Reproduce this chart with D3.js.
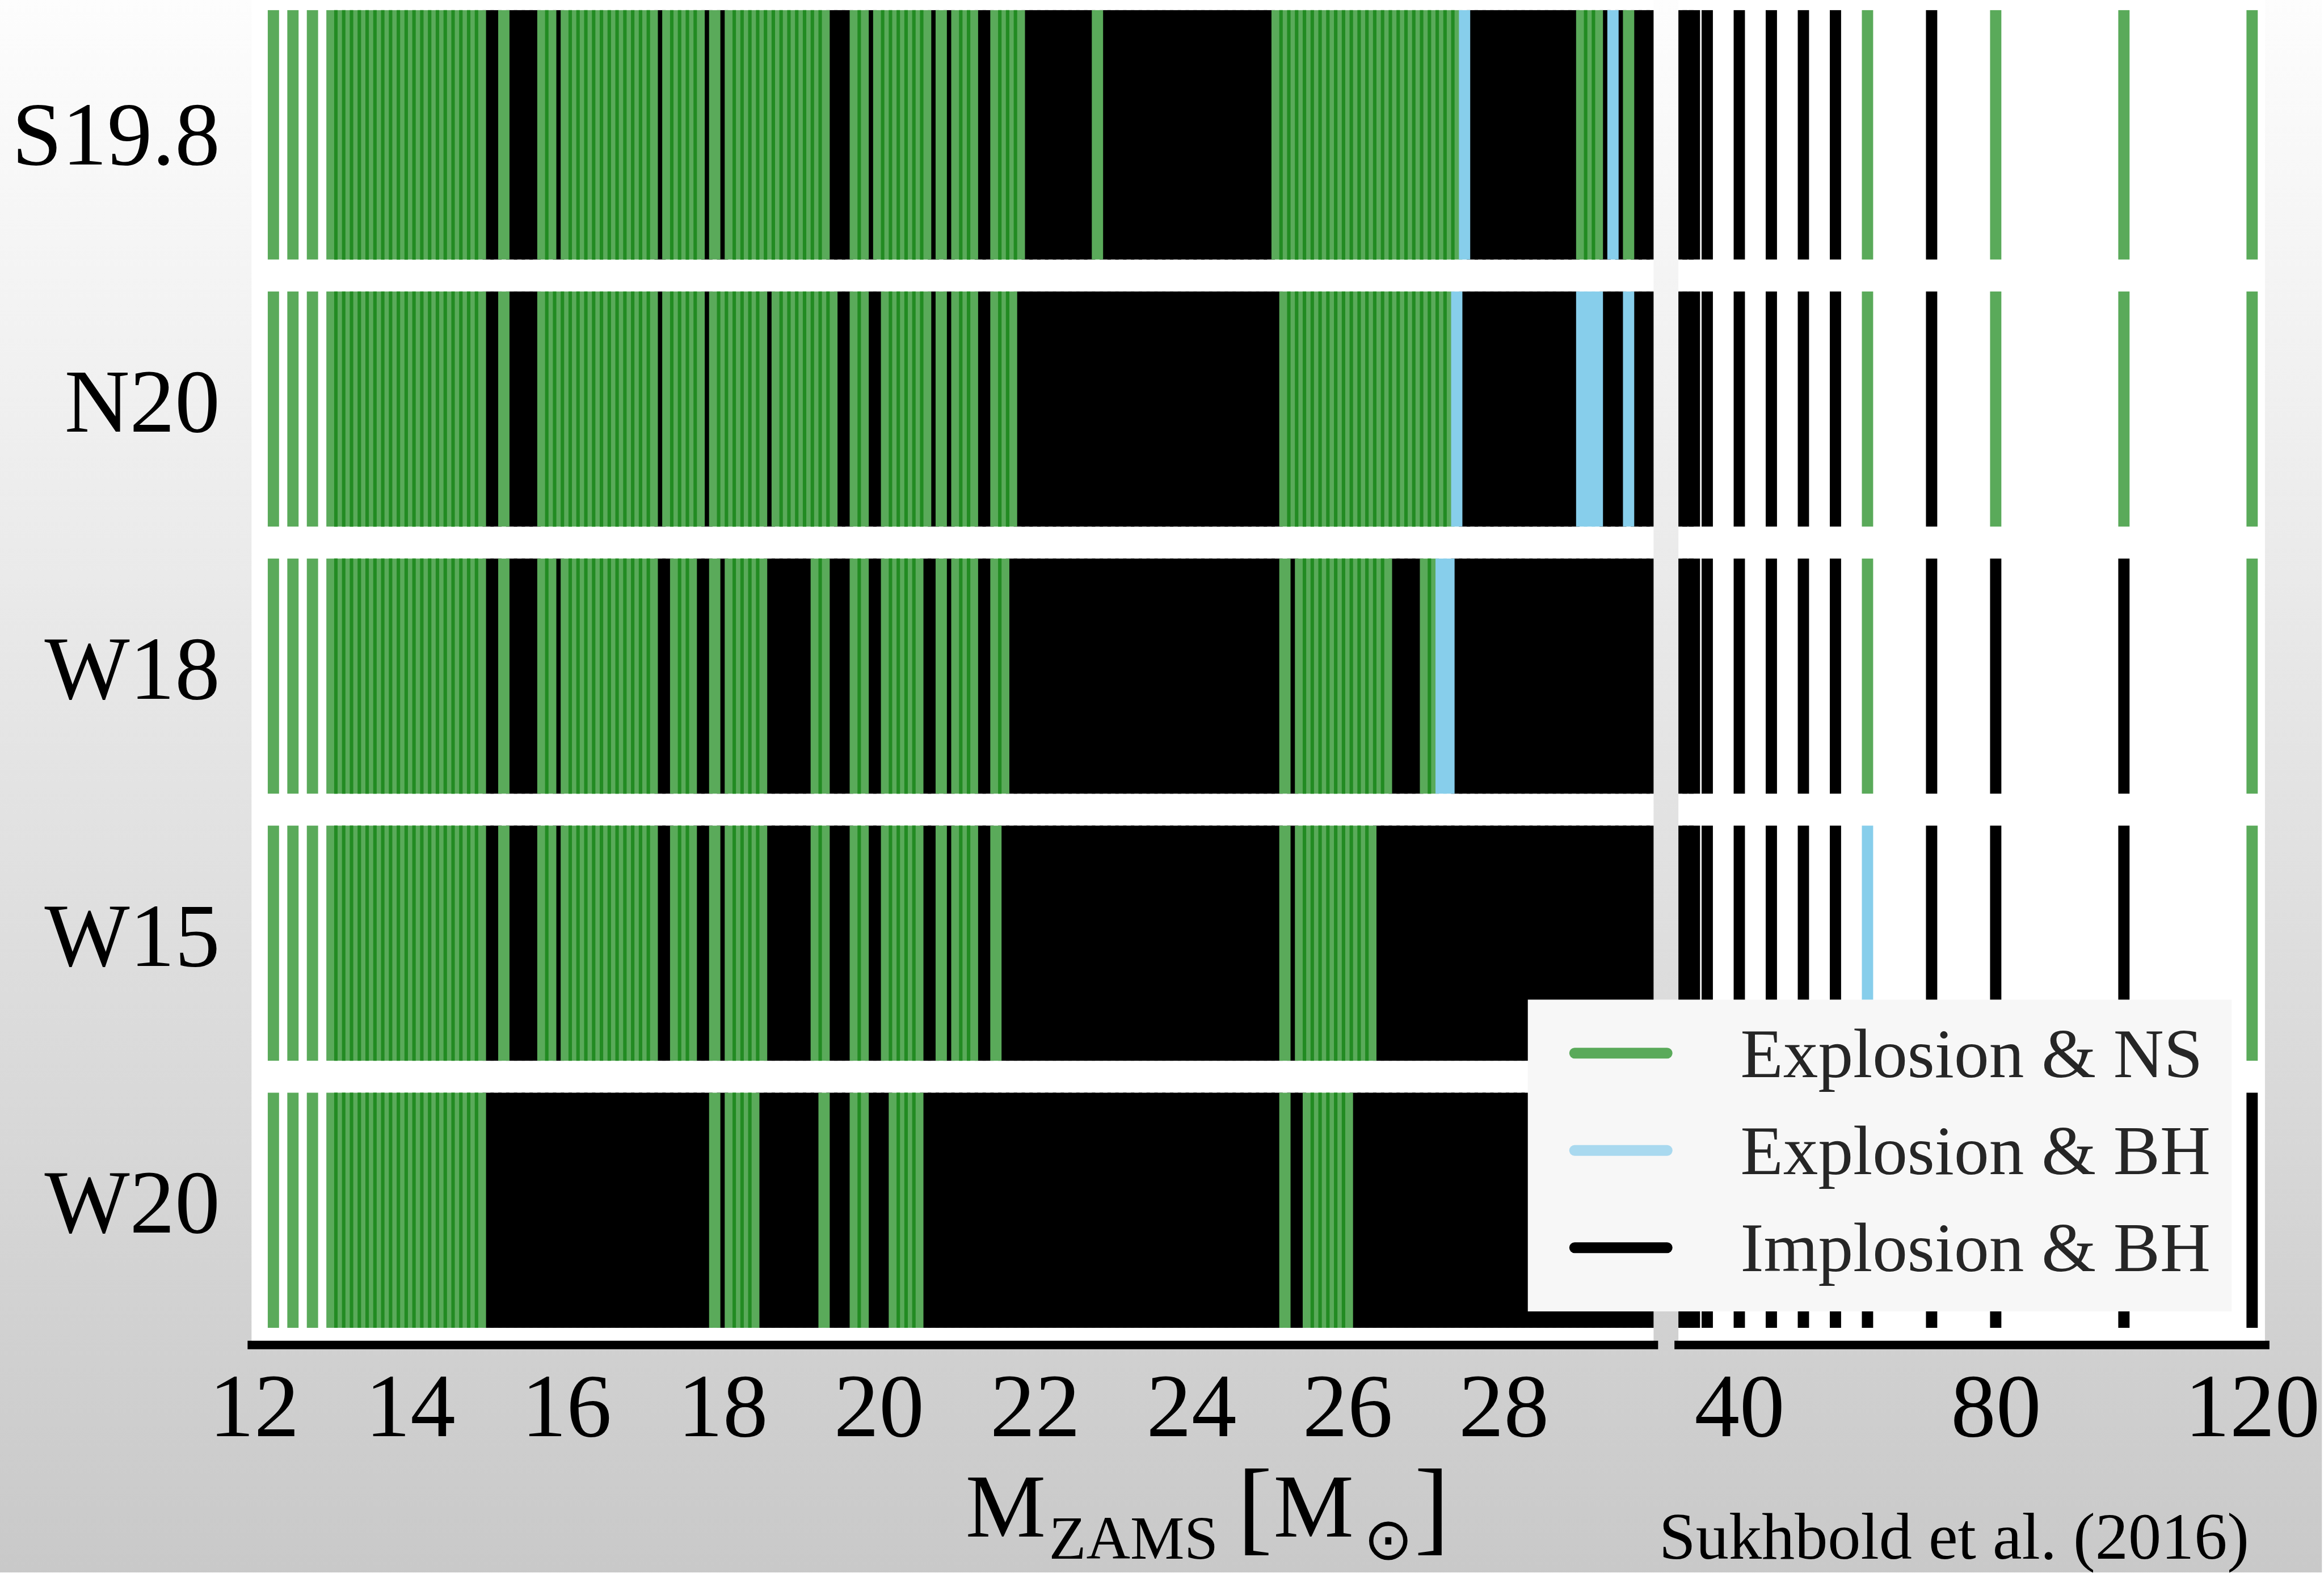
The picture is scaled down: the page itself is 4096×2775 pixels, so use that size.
<!DOCTYPE html>
<html>
<head>
<meta charset="utf-8">
<script src="https://cdn.jsdelivr.net/npm/d3@7"></script>
<style>
  body { margin: 0; background: #fff; }
  svg { display: block; }
</style>
</head>
<body>
<div id="chart"></div>
<script>
// engines (one row each), top to bottom
var engines = ["S19.8", "N20", "W18", "W15", "W20"];

// ZAMS masses of the progenitor grid [Msun]
var masses = [
    12.25, 12.5, 12.75,
    13.0, 13.1, 13.2, 13.3, 13.4, 13.5, 13.6, 13.7, 13.8, 13.9,
    14.0, 14.1, 14.2, 14.3, 14.4, 14.5, 14.6, 14.7, 14.8, 14.9,
    15.0, 15.1, 15.2, 15.3, 15.4, 15.5, 15.6, 15.7, 15.8, 15.9,
    16.0, 16.1, 16.2, 16.3, 16.4, 16.5, 16.6, 16.7, 16.8, 16.9,
    17.0, 17.1, 17.2, 17.3, 17.4, 17.5, 17.6, 17.7, 17.8, 17.9,
    18.0, 18.1, 18.2, 18.3, 18.4, 18.5, 18.6, 18.7, 18.8, 18.9,
    19.0, 19.1, 19.2, 19.3, 19.4, 19.5, 19.6, 19.7, 19.8, 19.9,
    20.0, 20.1, 20.2, 20.3, 20.4, 20.5, 20.6, 20.7, 20.8, 20.9,
    21.0, 21.1, 21.2, 21.3, 21.4, 21.5, 21.6, 21.7, 21.8, 21.9,
    22.0, 22.1, 22.2, 22.3, 22.4, 22.5, 22.6, 22.7, 22.8, 22.9,
    23.0, 23.1, 23.2, 23.3, 23.4, 23.5, 23.6, 23.7, 23.8, 23.9,
    24.0, 24.1, 24.2, 24.3, 24.4, 24.5, 24.6, 24.7, 24.8, 24.9,
    25.0, 25.1, 25.2, 25.3, 25.4, 25.5, 25.6, 25.7, 25.8, 25.9,
    26.0, 26.1, 26.2, 26.3, 26.4, 26.5, 26.6, 26.7, 26.8, 26.9,
    27.0, 27.1, 27.2, 27.3, 27.4, 27.5, 27.6, 27.7, 27.8, 27.9,
    28.0, 28.1, 28.2, 28.3, 28.4, 28.5, 28.6, 28.7, 28.8, 28.9,
    29.0, 29.1, 29.2, 29.3, 29.4, 29.5, 29.6, 29.7, 29.8, 29.9,
    30.0,
    31, 32, 33, 35, 40, 45, 50, 55, 60, 70, 80, 100, 120
];

// outcome runs per engine: [first mass, last mass, outcome]
// ns = explosion & NS, bhx = explosion & BH, bh = implosion & BH
var runsS198 = [
    [12.25, 14.9, "ns"], [15.0, 15.1, "bh"], [15.2, 15.2, "ns"], [15.3, 15.6, "bh"],
    [15.7, 15.8, "ns"], [15.9, 15.9, "bh"], [16.0, 17.1, "ns"], [17.2, 17.2, "bh"],
    [17.3, 17.7, "ns"], [17.8, 17.8, "bh"], [17.9, 17.9, "ns"], [18.0, 18.0, "bh"],
    [18.1, 19.3, "ns"], [19.4, 19.6, "bh"], [19.7, 19.8, "ns"], [19.9, 19.9, "bh"],
    [20.0, 20.6, "ns"], [20.7, 20.7, "bh"], [20.8, 20.8, "ns"], [20.9, 20.9, "bh"],
    [21.0, 21.2, "ns"], [21.3, 21.4, "bh"], [21.5, 21.8, "ns"], [21.9, 22.7, "bh"],
    [22.8, 22.8, "ns"], [22.9, 25.0, "bh"], [25.1, 27.4, "ns"], [27.5, 27.5, "bhx"],
    [27.6, 28.9, "bh"], [29.0, 29.2, "ns"], [29.3, 29.3, "bh"], [29.4, 29.4, "bhx"],
    [29.5, 29.5, "bh"], [29.6, 29.6, "ns"], [29.7, 55, "bh"], [60, 60, "ns"],
    [70, 70, "bh"], [80, 120, "ns"]
];
var runsN20 = [
    [12.25, 14.9, "ns"], [15.0, 15.1, "bh"], [15.2, 15.2, "ns"], [15.3, 15.6, "bh"],
    [15.7, 17.1, "ns"], [17.2, 17.2, "bh"], [17.3, 17.7, "ns"], [17.8, 17.8, "bh"],
    [17.9, 18.5, "ns"], [18.6, 18.6, "bh"], [18.7, 19.4, "ns"], [19.5, 19.6, "bh"],
    [19.7, 19.8, "ns"], [19.9, 20.0, "bh"], [20.1, 20.6, "ns"], [20.7, 20.7, "bh"],
    [20.8, 20.8, "ns"], [20.9, 20.9, "bh"], [21.0, 21.2, "ns"], [21.3, 21.4, "bh"],
    [21.5, 21.7, "ns"], [21.8, 25.1, "bh"], [25.2, 27.3, "ns"], [27.4, 27.4, "bhx"],
    [27.5, 28.9, "bh"], [29.0, 29.2, "bhx"], [29.3, 29.5, "bh"], [29.6, 29.6, "bhx"],
    [29.7, 55, "bh"], [60, 60, "ns"], [70, 70, "bh"], [80, 120, "ns"]
];
var runsW18 = [
    [12.25, 14.9, "ns"], [15.0, 15.1, "bh"], [15.2, 15.2, "ns"], [15.3, 15.6, "bh"],
    [15.7, 15.8, "ns"], [15.9, 15.9, "bh"], [16.0, 17.1, "ns"], [17.2, 17.3, "bh"],
    [17.4, 17.6, "ns"], [17.7, 17.8, "bh"], [17.9, 17.9, "ns"], [18.0, 18.0, "bh"],
    [18.1, 18.5, "ns"], [18.6, 19.1, "bh"], [19.2, 19.3, "ns"], [19.4, 19.6, "bh"],
    [19.7, 19.8, "ns"], [19.9, 20.0, "bh"], [20.1, 20.5, "ns"], [20.6, 20.7, "bh"],
    [20.8, 20.8, "ns"], [20.9, 20.9, "bh"], [21.0, 21.2, "ns"], [21.3, 21.4, "bh"],
    [21.5, 21.6, "ns"], [21.7, 25.1, "bh"], [25.2, 25.2, "ns"], [25.3, 25.3, "bh"],
    [25.4, 26.5, "ns"], [26.6, 26.9, "bh"], [27.0, 27.1, "ns"], [27.2, 27.3, "bhx"],
    [27.4, 55, "bh"], [60, 60, "ns"], [70, 100, "bh"], [120, 120, "ns"]
];
var runsW15 = [
    [12.25, 14.9, "ns"], [15.0, 15.1, "bh"], [15.2, 15.2, "ns"], [15.3, 15.6, "bh"],
    [15.7, 15.8, "ns"], [15.9, 15.9, "bh"], [16.0, 17.1, "ns"], [17.2, 17.3, "bh"],
    [17.4, 17.6, "ns"], [17.7, 17.8, "bh"], [17.9, 17.9, "ns"], [18.0, 18.0, "bh"],
    [18.1, 18.5, "ns"], [18.6, 19.1, "bh"], [19.2, 19.3, "ns"], [19.4, 19.6, "bh"],
    [19.7, 19.8, "ns"], [19.9, 20.0, "bh"], [20.1, 20.5, "ns"], [20.6, 20.7, "bh"],
    [20.8, 20.8, "ns"], [20.9, 20.9, "bh"], [21.0, 21.2, "ns"], [21.3, 21.4, "bh"],
    [21.5, 21.5, "ns"], [21.6, 25.1, "bh"], [25.2, 25.2, "ns"], [25.3, 25.3, "bh"],
    [25.4, 26.3, "ns"], [26.4, 55, "bh"], [60, 60, "bhx"], [70, 100, "bh"],
    [120, 120, "ns"]
];
var runsW20 = [
    [12.25, 14.9, "ns"], [15.0, 17.8, "bh"], [17.9, 17.9, "ns"], [18.0, 18.0, "bh"],
    [18.1, 18.4, "ns"], [18.5, 19.2, "bh"], [19.3, 19.3, "ns"], [19.4, 19.6, "bh"],
    [19.7, 19.8, "ns"], [19.9, 20.1, "bh"], [20.2, 20.5, "ns"], [20.6, 25.1, "bh"],
    [25.2, 25.2, "ns"], [25.3, 25.4, "bh"], [25.5, 26.0, "ns"], [26.1, 120, "bh"]
];

var leftTicks = [12, 14, 16, 18, 20, 22, 24, 26, 28];
var rightTicks = [40, 80, 120];
var outcomeKeys = ["ns", "bhx", "bh"];
var outcomeLabels = ["Explosion & NS", "Explosion & BH", "Implosion & BH"];

var runsByEngine = {
    "S19.8": runsS198,
    "N20": runsN20,
    "W18": runsW18,
    "W15": runsW15,
    "W20": runsW20
};

// everything is laid out in the reference frame (4117 x 2789) and scaled down
var W = 4117, H = 2789, k = 0.994;
var serif = "'Liberation Serif', 'DejaVu Serif', serif";

var colors = { ns: "#5aaa5a", bhx: "#87ceeb", bh: "#000000" };
var overlapColor = "#228b22";     // where two neighbouring green bars overlap
var drawOrder = { bh: 0, ns: 1, bhx: 2 };   // black first, blue on top

var svg = d3.select("#chart")
    .append("svg")
    .attr("width", 4096)
    .attr("height", 2775);

var defs = svg.append("defs");
var grad = defs.append("linearGradient")
    .attr("id", "bg")
    .attr("x1", 0).attr("y1", 0)
    .attr("x2", 0).attr("y2", 1);
grad.append("stop").attr("offset", "0%").attr("stop-color", "#fdfdfd");
grad.append("stop").attr("offset", "100%").attr("stop-color", "#c9c9c9");

var root = svg.append("g").attr("transform", "scale(" + k + ")");

root.append("rect")
    .attr("width", W)
    .attr("height", H)
    .attr("fill", "url(#bg)");

var frameTop = 0,
    frameBottom = 2385,
    barTop = 18,       // top row runs up to here
    barWidth = 20;

var xLeft = d3.scaleLinear().domain([11.97, 29.92]).range([446, 2932]);
var xRight = d3.scaleLinear().domain([30.5, 122]).range([2976, 4016]);
var yRow = d3.scaleBand().domain(engines).range([43.3, 2355.1]).paddingInner(0.1197);

function outcomeOf(engine, m) {
    var runs = runsByEngine[engine];
    for (var i = 0; i < runs.length; i++) {
        if (m >= runs[i][0] - 1e-6 && m <= runs[i][1] + 1e-6) return runs[i][2];
    }
    return "bh";
}

function rowTop(engine) {
    return engine === engines[0] ? barTop : yRow(engine);
}
function rowHeight(engine) {
    return yRow(engine) + yRow.bandwidth() - rowTop(engine);
}

var panels = [
    { id: "left", x: xLeft, ticks: leftTicks, filter: function (m) { return m <= 30; } },
    { id: "right", x: xRight, ticks: rightTicks, filter: function (m) { return m > 30; } }
];

panels.forEach(function (p) {
    var r = p.x.range();
    var panelMasses = masses.filter(p.filter);

    // one record per engine and model, plus overlaps of neighbouring green bars
    var models = [], overlaps = [];
    engines.forEach(function (e) {
        panelMasses.forEach(function (m, i) {
            var out = outcomeOf(e, m);
            models.push({ engine: e, mass: m, outcome: out });
            if (i > 0 && out === "ns" && outcomeOf(e, panelMasses[i - 1]) === "ns") {
                var gap = p.x(m) - p.x(panelMasses[i - 1]);
                if (gap < barWidth) {
                    overlaps.push({ engine: e, mass: m, width: barWidth - gap });
                }
            }
        });
    });
    models.sort(function (a, b) {
        return drawOrder[a.outcome] - drawOrder[b.outcome];
    });

    defs.append("clipPath")
        .attr("id", "clip-" + p.id)
        .append("rect")
        .attr("x", r[0])
        .attr("y", frameTop)
        .attr("width", r[1] - r[0])
        .attr("height", frameBottom - frameTop);

    // white axes background
    root.append("rect")
        .attr("x", r[0])
        .attr("y", frameTop)
        .attr("width", r[1] - r[0])
        .attr("height", frameBottom - frameTop)
        .attr("fill", "#ffffff");

    var plot = root.append("g").attr("clip-path", "url(#clip-" + p.id + ")");

    var lower = models.filter(function (d) { return d.outcome !== "bhx"; });
    var upper = models.filter(function (d) { return d.outcome === "bhx"; });

    function drawBars(sel) {
        sel.enter()
            .append("rect")
            .attr("x", function (d) { return p.x(d.mass) - barWidth / 2; })
            .attr("y", function (d) { return rowTop(d.engine); })
            .attr("width", barWidth)
            .attr("height", function (d) { return rowHeight(d.engine); })
            .attr("fill", function (d) { return colors[d.outcome]; });
    }

    drawBars(plot.append("g").selectAll("rect").data(lower));

    plot.append("g")
        .selectAll("rect")
        .data(overlaps)
        .enter()
        .append("rect")
        .attr("x", function (d) { return p.x(d.mass) - barWidth / 2; })
        .attr("y", function (d) { return rowTop(d.engine); })
        .attr("width", function (d) { return d.width; })
        .attr("height", function (d) { return rowHeight(d.engine); })
        .attr("fill", overlapColor);

    drawBars(plot.append("g").selectAll("rect").data(upper));

    // thick bottom spine + tick labels
    var axis = root.append("g")
        .attr("transform", "translate(0," + frameBottom + ")")
        .call(d3.axisBottom(p.x)
            .tickValues(p.ticks)
            .tickFormat(d3.format("d"))
            .tickSize(0)
            .tickSizeOuter(0)
            .tickPadding(49));
    axis.select(".domain")
        .attr("stroke", "#000")
        .attr("stroke-width", 15)
        .attr("stroke-linecap", "square");
    axis.selectAll("text")
        .attr("font-family", serif)
        .attr("font-size", 160)
        .attr("fill", "#000");
});

// engine labels
root.selectAll(".engine")
    .data(engines)
    .enter()
    .append("text")
    .attr("class", "engine")
    .attr("x", 390)
    .attr("y", function (d) { return yRow(d) + yRow.bandwidth() / 2 + 40; })
    .attr("text-anchor", "end")
    .attr("font-family", serif)
    .attr("font-size", 160)
    .attr("fill", "#000")
    .text(function (d) { return d; });

// legend
var legend = root.append("g");
legend.append("rect")
    .attr("x", 2709)
    .attr("y", 1773)
    .attr("width", 3957 - 2709)
    .attr("height", 2326 - 1773)
    .attr("fill", "#f7f7f7");

var legendColors = { ns: "#5aaa5a", bhx: "#a9d9ef", bh: "#000000" };
var legendY = d3.scalePoint().domain(outcomeKeys).range([1868, 2213]);

legend.selectAll("line")
    .data(outcomeKeys)
    .enter()
    .append("line")
    .attr("x1", 2792)
    .attr("x2", 2956)
    .attr("y1", function (d) { return legendY(d); })
    .attr("y2", function (d) { return legendY(d); })
    .attr("stroke", function (d) { return legendColors[d]; })
    .attr("stroke-width", 19)
    .attr("stroke-linecap", "round");

legend.selectAll("text")
    .data(outcomeKeys)
    .enter()
    .append("text")
    .attr("x", 3086)
    .attr("y", function (d) { return legendY(d) + 42; })
    .attr("font-family", serif)
    .attr("font-size", 124)
    .attr("fill", "#262626")
    .text(function (d, i) { return outcomeLabels[i]; });

// x axis label: M_ZAMS [M_sun], one text element built from pieces
var xlab = root.append("text")
    .attr("font-family", serif)
    .attr("fill", "#000");
xlab.append("tspan").attr("x", 1712).attr("y", 2725).attr("font-size", 160).text("M");
xlab.append("tspan").attr("x", 1860).attr("y", 2765).attr("font-size", 108).text("ZAMS");
xlab.append("tspan").attr("x", 2194).attr("y", 2733).attr("font-size", 186).text("[");
xlab.append("tspan").attr("x", 2258).attr("y", 2725).attr("font-size", 160).text("M");
xlab.append("tspan").attr("x", 2418).attr("y", 2766).attr("font-size", 104)
    .attr("font-family", "'DejaVu Sans', sans-serif")
    .text("\u2299");
xlab.append("tspan").attr("x", 2508).attr("y", 2733).attr("font-size", 186).text("]");

// source note
root.append("text")
    .attr("x", 3988)
    .attr("y", 2765)
    .attr("text-anchor", "end")
    .attr("font-family", serif)
    .attr("font-size", 117)
    .attr("fill", "#000")
    .text("Sukhbold et al. (2016)");
</script>
</body>
</html>
